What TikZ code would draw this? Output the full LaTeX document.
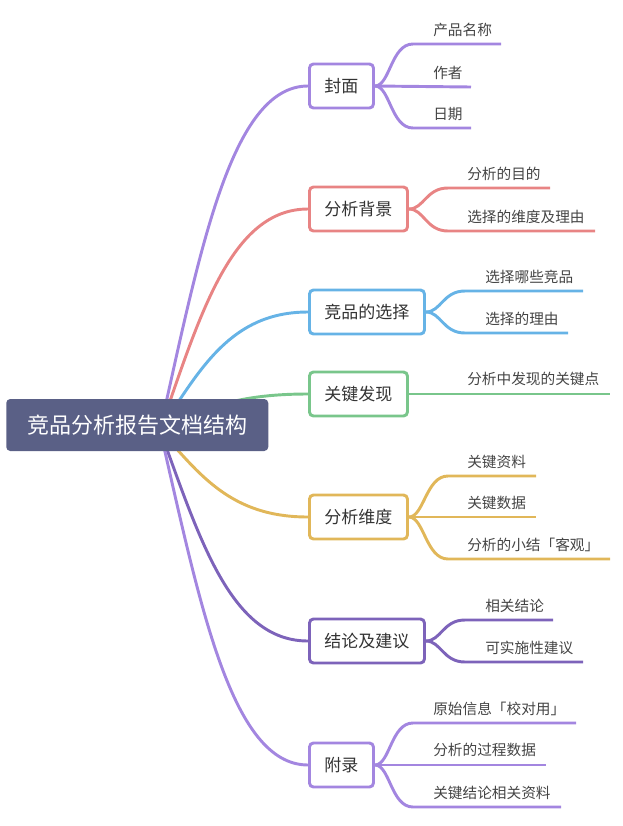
\documentclass[tikz,border=0pt]{standalone}
\usepackage{fontspec}
\newfontfamily\cjk{Noto Sans CJK SC}
\usetikzlibrary{positioning,backgrounds}

\definecolor{rootblue}{HTML}{5A6086}
\definecolor{lilac}{HTML}{A386E0}
\definecolor{rose}{HTML}{E88484}
\definecolor{sky}{HTML}{66B3E6}
\definecolor{mint}{HTML}{79C68B}
\definecolor{ochre}{HTML}{E1B759}
\definecolor{grape}{HTML}{7D63BA}
\definecolor{ink}{HTML}{333333}
\definecolor{leafink}{HTML}{444444}

\begin{document}
\begin{tikzpicture}[x=0.75pt,y=-0.75pt,
	root/.style={fill=rootblue,text=white,rounded corners=3pt,font=\cjk\fontsize{16.5}{20}\selectfont,inner xsep=15.75pt,minimum height=39pt,anchor=west},
	topic/.style={draw,fill=white,line width=2.2pt,rounded corners=3pt,text=ink,font=\cjk\fontsize{12.75}{15}\selectfont,inner xsep=11.25pt,minimum height=33pt,anchor=west},
	leaf/.style={text=leafink,font=\cjk\fontsize{11}{13}\selectfont,inner sep=0pt,anchor=base west},
	branch/.style={line width=2.2pt}]
			\useasboundingbox (0,0) rectangle (623,826);

			%root
			\node [root] (root) at (6,425) {竞品分析报告文档结构};
			\coordinate (o) at (160,430);

			%topics
			\node [topic,draw=lilac] (cover) at (308,86) {封面};
			\node [topic,draw=rose] (bg) at (308,209) {分析背景};
			\node [topic,draw=sky] (pick) at (308,312) {竞品的选择};
			\node [topic,draw=mint] (find) at (308,394) {关键发现};
			\node [topic,draw=ochre] (dim) at (308,517) {分析维度};
			\node [topic,draw=grape] (concl) at (308,641) {结论及建议};
			\node [topic,draw=lilac] (app) at (308,765) {附录};

			%leaves
			\node [leaf] (cover1) at (433,35) {产品名称};
			\node [leaf] (cover2) at (433,78) {作者};
			\node [leaf] (cover3) at (433,119) {日期};
			\node [leaf] (bg1) at (467,179) {分析的目的};
			\node [leaf] (bg2) at (467,222) {选择的维度及理由};
			\node [leaf] (pick1) at (485,282) {选择哪些竞品};
			\node [leaf] (pick2) at (485,324) {选择的理由};
			\node [leaf] (find1) at (467,384) {分析中发现的关键点};
			\node [leaf] (dim1) at (467,467) {关键资料};
			\node [leaf] (dim2) at (467,508) {关键数据};
			\node [leaf] (dim3) at (467,550) {分析的小结「客观」};
			\node [leaf] (concl1) at (485,611) {相关结论};
			\node [leaf] (concl2) at (485,653) {可实施性建议};
			\node [leaf] (app1) at (433,714) {原始信息「校对用」};
			\node [leaf] (app2) at (433,755) {分析的过程数据};
			\node [leaf] (app3) at (433,798) {关键结论相关资料};

			%line ends under the leaves
			\coordinate (c1s) at (413,44);  \coordinate (c1e) at (501,44);
			\coordinate (c2e) at (471,87);
			\coordinate (c3s) at (413,128); \coordinate (c3e) at (471,128);
			\coordinate (b1s) at (448,188); \coordinate (b1e) at (550,188);
			\coordinate (b2s) at (448,231); \coordinate (b2e) at (595,231);
			\coordinate (p1s) at (465,291); \coordinate (p1e) at (583,291);
			\coordinate (p2s) at (465,333); \coordinate (p2e) at (568,333);
			\coordinate (f1e) at (610,394);
			\coordinate (d1s) at (448,476); \coordinate (d1e) at (536,476);
			\coordinate (d2e) at (536,517);
			\coordinate (d3s) at (448,559); \coordinate (d3e) at (610,559);
			\coordinate (k1s) at (465,620); \coordinate (k1e) at (553,620);
			\coordinate (k2s) at (465,662); \coordinate (k2e) at (583,662);
			\coordinate (a1s) at (413,723); \coordinate (a1e) at (576,723);
			\coordinate (a2e) at (546,765);
			\coordinate (a3s) at (413,807); \coordinate (a3e) at (561,807);

			%edges
			\begin{scope}[on background layer]
			\draw[branch,lilac] (o) .. controls +(40,-179) and +(-77,0) .. (cover.west);
			\draw[branch,rose] (o) .. controls +(40,-115) and +(-77,0) .. (bg.west);
			\draw[branch,sky] (o) .. controls +(40,-61) and +(-77,0) .. (pick.west);
			\draw[branch,mint] (o) .. controls +(40,-19) and +(-77,0) .. (find.west);
			\draw[branch,ochre] (o) .. controls +(40,45) and +(-77,0) .. (dim.west);
			\draw[branch,grape] (o) .. controls +(40,110) and +(-77,0) .. (concl.west);
			\draw[branch,lilac] (o) .. controls +(40,174) and +(-77,0) .. (app.west);

			\draw[branch,lilac] (cover.east) .. controls +(15,0) and +(-22,0) .. (c1s) -- (c1e);
			\draw[branch,lilac] (cover.east) -- (c2e);
			\draw[branch,lilac] (cover.east) .. controls +(15,0) and +(-22,0) .. (c3s) -- (c3e);
			\draw[branch,rose] (bg.east) .. controls +(15,0) and +(-22,0) .. (b1s) -- (b1e);
			\draw[branch,rose] (bg.east) .. controls +(15,0) and +(-22,0) .. (b2s) -- (b2e);
			\draw[branch,sky] (pick.east) .. controls +(15,0) and +(-22,0) .. (p1s) -- (p1e);
			\draw[branch,sky] (pick.east) .. controls +(15,0) and +(-22,0) .. (p2s) -- (p2e);
			\draw[branch,mint] (find.east) -- (f1e);
			\draw[branch,ochre] (dim.east) .. controls +(15,0) and +(-22,0) .. (d1s) -- (d1e);
			\draw[branch,ochre] (dim.east) -- (d2e);
			\draw[branch,ochre] (dim.east) .. controls +(15,0) and +(-22,0) .. (d3s) -- (d3e);
			\draw[branch,grape] (concl.east) .. controls +(15,0) and +(-22,0) .. (k1s) -- (k1e);
			\draw[branch,grape] (concl.east) .. controls +(15,0) and +(-22,0) .. (k2s) -- (k2e);
			\draw[branch,lilac] (app.east) .. controls +(15,0) and +(-22,0) .. (a1s) -- (a1e);
			\draw[branch,lilac] (app.east) -- (a2e);
			\draw[branch,lilac] (app.east) .. controls +(15,0) and +(-22,0) .. (a3s) -- (a3e);
			\end{scope}
		\end{tikzpicture}
\end{document}
